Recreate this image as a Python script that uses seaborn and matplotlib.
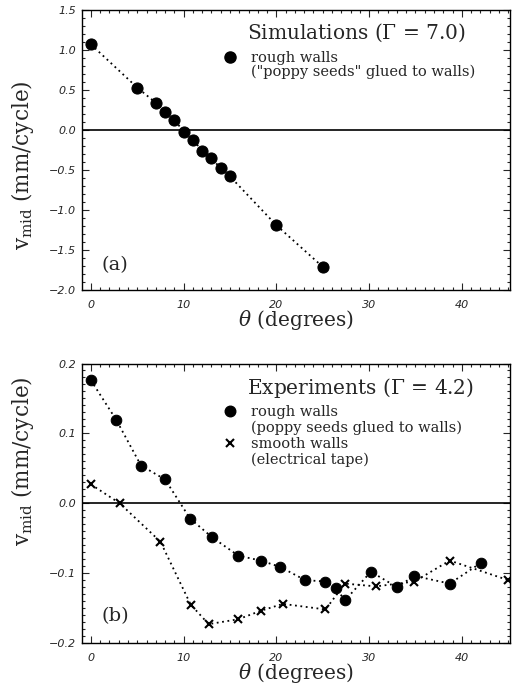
import matplotlib
matplotlib.use("Agg")
import matplotlib.pyplot as plt
from matplotlib.lines import Line2D
from matplotlib.ticker import MultipleLocator
import seaborn as sns
import pandas as pd

# ---- data ----
sim_theta = [0, 5, 7, 8, 9, 10, 11, 12, 13, 14, 15, 20, 25]
sim_v = [1.07, 0.53, 0.34, 0.225, 0.13, -0.02, -0.12, -0.26, -0.35, -0.48, -0.58, -1.19, -1.71]

rough_theta = [0.0, 2.75, 5.4, 8.0, 10.7, 13.1, 15.9, 18.3, 20.4, 23.1, 25.3, 26.4, 27.4,
               30.2, 33.0, 34.9, 38.7, 42.1]
rough_v = [0.176, 0.119, 0.054, 0.034, -0.022, -0.049, -0.075, -0.082, -0.091, -0.110,
           -0.112, -0.121, -0.139, -0.098, -0.120, -0.104, -0.115, -0.085]

smooth_theta = [0.0, 3.1, 7.5, 10.76, 12.7, 15.9, 18.3, 20.7, 25.3, 27.4, 30.75, 34.9, 38.7, 45.0]
smooth_v = [0.027, 0.0, -0.055, -0.145, -0.173, -0.166, -0.154, -0.144, -0.152, -0.115,
            -0.119, -0.112, -0.082, -0.110]

xticks = [0, 10, 20, 30, 40]
xticklabels = ["0", "10", "20", "30", "40"]
yticks_a = [-2.0, -1.5, -1.0, -0.5, 0.0, 0.5, 1.0, 1.5]
yticklabels_a = ["\u22122.0", "\u22121.5", "\u22121.0", "\u22120.5", "0.0", "0.5", "1.0", "1.5"]
yticks_b = [-0.2, -0.1, 0.0, 0.1, 0.2]
yticklabels_b = ["\u22120.2", "\u22120.1", "0.0", "0.1", "0.2"]
xlabel = r"$\theta$ (degrees)"
ylabel = r"v$_{\rm mid}$ (mm/cycle)"

sns.set_style("ticks")
plt.rcParams["font.family"] = ["DejaVu Serif"]
plt.rcParams["mathtext.fontset"] = "dejavuserif"

fig = plt.figure(figsize=(5.16, 6.92), dpi=100)
W, H = 516, 692
def ax_rect(l, t, r, b):
    return [l / W, 1 - b / H, (r - l) / W, (b - t) / H]

ax1 = fig.add_axes(ax_rect(82, 10, 510, 290))
ax2 = fig.add_axes(ax_rect(82, 363.5, 510, 643))

ls = (0, (1, 2))
df_sim = pd.DataFrame({"theta": sim_theta, "v": sim_v})
df_rough = pd.DataFrame({"theta": rough_theta, "v": rough_v})
df_smooth = pd.DataFrame({"theta": smooth_theta, "v": smooth_v})

sns.lineplot(data=df_sim, x="theta", y="v", ax=ax1, color="black", marker="o",
             markersize=8, markeredgecolor="black", linestyle=ls, linewidth=1.3,
             sort=False, estimator=None, legend=False)
sns.lineplot(data=df_rough, x="theta", y="v", ax=ax2, color="black", marker="o",
             markersize=7.6, markeredgecolor="black", linestyle=ls, linewidth=1.3,
             sort=False, estimator=None, legend=False)
sns.lineplot(data=df_smooth, x="theta", y="v", ax=ax2, color="black", marker="x",
             markersize=6, markeredgewidth=1.5, markeredgecolor="black", linestyle=ls,
             linewidth=1.3, sort=False, estimator=None, legend=False)

for ax, yt, ytl in ((ax1, yticks_a, yticklabels_a), (ax2, yticks_b, yticklabels_b)):
    ax.axhline(0, color="black", lw=1.2, zorder=1)
    ax.set_xticks(xticks, labels=xticklabels)
    ax.set_yticks(yt, labels=ytl)
    ax.set_xlim(-0.96, 45.2)
    ax.xaxis.set_minor_locator(MultipleLocator(1))
    ax.tick_params(which="both", direction="in", top=True, right=True, width=0.8)
    ax.tick_params(which="major", length=5)
    ax.tick_params(axis="x", which="major", pad=7)
    ax.tick_params(axis="y", which="major", pad=4)
    ax.tick_params(which="minor", length=2.5)
    ax.set_xlabel(xlabel, fontsize=14.5, labelpad=-1)
    ax.set_ylabel(ylabel, fontsize=15.5)
    for sp in ax.spines.values():
        sp.set_linewidth(1.0)
        sp.set_color("black")

ax1.set_ylim(-2.0, 1.5)
ax1.yaxis.set_minor_locator(MultipleLocator(0.1))
ax2.set_ylim(-0.2, 0.2)
ax2.yaxis.set_minor_locator(MultipleLocator(0.01))

ax1.yaxis.set_label_coords(-0.108, 0.446)
ax2.yaxis.set_label_coords(-0.108, 0.65)

# titles and legends
ax1.text(0.386, 0.918, r"Simulations ($\Gamma$ = $\mathit{7.0}$)", transform=ax1.transAxes,
         ha="left", va="center", fontsize=14.5)
ax2.text(0.386, 0.914, r"Experiments ($\Gamma$ = $\mathit{4.2}$)", transform=ax2.transAxes,
         ha="left", va="center", fontsize=14.5)

blank = Line2D([], [], linestyle="none", marker=None)
circ = Line2D([], [], linestyle="none", marker="o", markersize=8, color="black")
circ2 = Line2D([], [], linestyle="none", marker="o", markersize=7.6, color="black")
cross = Line2D([], [], linestyle="none", marker="x", markersize=6, markeredgewidth=1.5,
               color="black")

leg_kw = dict(loc="upper left", frameon=False, fontsize=10.5, handlelength=1.0,
              handletextpad=0.9, labelspacing=0.0, borderpad=0, borderaxespad=0)
ax1.legend([circ, blank], ["rough walls", "(\"poppy seeds\" glued to walls)"],
           bbox_to_anchor=((223 - 82) / 428, (290 - 51) / 280), **leg_kw)
ax2.legend([circ2, blank, cross, blank],
           ["rough walls", "(poppy seeds glued to walls)", "smooth walls",
            "(electrical tape)"],
           bbox_to_anchor=((223 - 82) / 428, (643 - 405) / 280),
           **{**leg_kw, "labelspacing": 0.1})

ax1.text(0.045, 0.088, "(a)", transform=ax1.transAxes, fontsize=14, ha="left", va="center")
ax2.text(0.045, 0.095, "(b)", transform=ax2.transAxes, fontsize=14, ha="left", va="center")

fig.canvas.draw()
for ax in (ax1, ax2):
    for lab in ax.get_xticklabels() + ax.get_yticklabels():
        lab.set_fontfamily("DejaVu Sans")
        lab.set_fontstyle("oblique")
        lab.set_fontsize(8)

fig.savefig("out.png", dpi=100)
